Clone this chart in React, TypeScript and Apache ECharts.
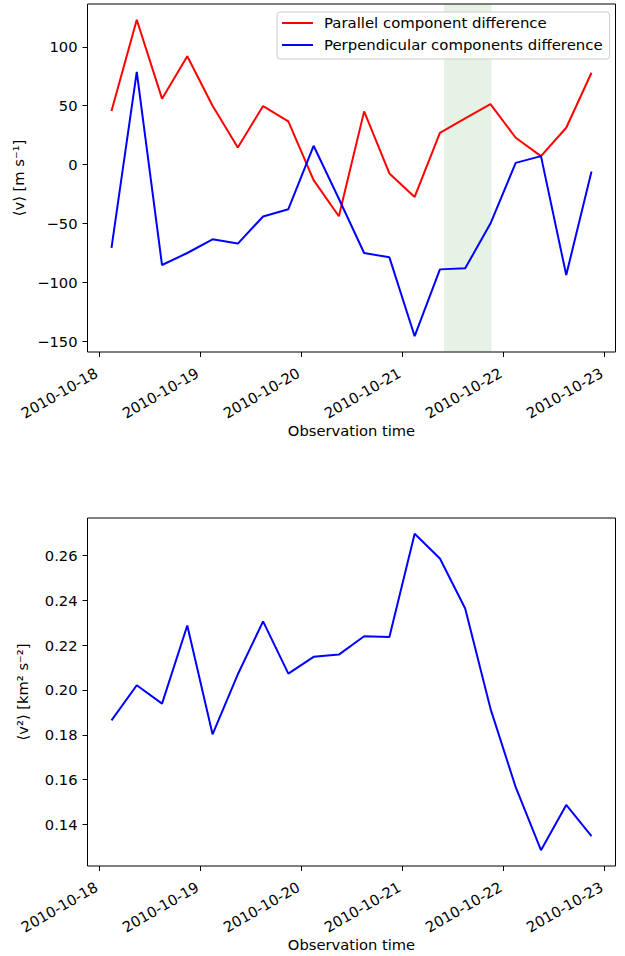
import React, { useEffect, useRef } from "react";
import * as echarts from "echarts";

const times = [
  "2010-10-18 03:00", "2010-10-18 09:00", "2010-10-18 15:00", "2010-10-18 21:00",
  "2010-10-19 03:00", "2010-10-19 09:00", "2010-10-19 15:00", "2010-10-19 21:00",
  "2010-10-20 03:00", "2010-10-20 09:00", "2010-10-20 15:00", "2010-10-20 21:00",
  "2010-10-21 03:00", "2010-10-21 09:00", "2010-10-21 15:00", "2010-10-21 21:00",
  "2010-10-22 03:00", "2010-10-22 09:00", "2010-10-22 15:00", "2010-10-22 21:00",
];
const parallelDiff = [45.5, 122.9, 56, 92, 50, 14.6, 49.7, 36.7, -13.2, -43.8, 45.2, -7.5, -27.4, 27, 39.3, 51.4, 22.8, 7.2, 31.3, 78];
const perpDiff = [-70.7, 78.7, -85.2, -75, -63.4, -67, -44, -37.8, 16, -29, -75, -78.7, -145.6, -88.9, -88, -50, 1.5, 7.2, -93.7, -5.8];
const v2 = [0.1864, 0.2021, 0.1939, 0.2288, 0.1802, 0.207, 0.2306, 0.2073, 0.2148, 0.2158, 0.224, 0.2236, 0.2697, 0.2587, 0.2364, 0.1917, 0.1566, 0.1285, 0.1487, 0.1348];
const dayTicks = ["2010-10-18", "2010-10-19", "2010-10-20", "2010-10-21", "2010-10-22", "2010-10-23"];
const shadeStart = "2010-10-21 10:00";
const shadeEnd = "2010-10-21 21:15";
const topYTicks = [-150, -100, -50, 0, 50, 100];
const bottomYTicks = [0.14, 0.16, 0.18, 0.2, 0.22, 0.24, 0.26];

const toMs = (s: string) => Date.parse(s.replace(" ", "T") + (s.length > 10 ? ":00Z" : "T00:00:00Z"));

const FONT = "DejaVu Sans";
const FS = 14.7;

export default function App() {
  const ref = useRef<HTMLDivElement>(null);
  useEffect(() => {
    if (!ref.current) return;
    const chart = echarts.init(ref.current, undefined, { renderer: "svg" });
    const xs = times.map(toMs);
    const xRange = xs[xs.length - 1] - xs[0];
    const xMin = xs[0] - 0.05 * xRange;
    const xMax = xs[xs.length - 1] + 0.05 * xRange;
    const tickMs = dayTicks.map(toMs);
    const pad = (arr: number[]) => {
      const lo = Math.min(...arr), hi = Math.max(...arr);
      const r = hi - lo;
      return [lo - 0.05 * r, hi + 0.05 * r];
    };
    const [tMin, tMax] = pad([...parallelDiff, ...perpDiff]);
    const [bMin, bMax] = pad(v2);
    const fmtDate = (v: number) => {
      const d = new Date(v);
      const mm = String(d.getUTCMonth() + 1).padStart(2, "0");
      const dd = String(d.getUTCDate()).padStart(2, "0");
      return `${d.getUTCFullYear()}-${mm}-${dd}`;
    };
    const xAxisBase = (gridIndex: number) => ({
      type: "value",
      gridIndex,
      min: xMin,
      max: xMax,
      splitLine: { show: false },
      axisLine: { show: false, onZero: false },
      axisTick: { show: true, inside: false, length: 5, customValues: tickMs, lineStyle: { color: "#000", width: 1 } },
      axisLabel: {
        customValues: tickMs,
        formatter: (v: number) => fmtDate(v),
        rotate: 30,
        margin: 18,
        padding: [0, 3, 0, 0],
        color: "#000",
        fontSize: FS,
        fontFamily: FONT,
      },
      name: "Observation time",
      nameLocation: "middle",
      nameGap: 70,
      nameTextStyle: { color: "#000", fontSize: FS, fontFamily: FONT },
    });
    const yAxisBase = (gridIndex: number, min: number, max: number, ticks: number[], fmt: (v: number) => string, name: string) => ({
      type: "value",
      gridIndex,
      min,
      max,
      splitLine: { show: false },
      axisLine: { show: false, onZero: false },
      axisTick: { show: true, inside: false, length: 5, customValues: ticks, lineStyle: { color: "#000", width: 1 } },
      axisLabel: {
        customValues: ticks,
        formatter: fmt,
        margin: 10,
        color: "#000",
        fontSize: FS,
        fontFamily: FONT,
      },
      name,
      nameLocation: "middle",
      nameGap: 58,
      nameRotate: 90,
      nameTextStyle: { color: "#000", fontSize: FS, fontFamily: FONT },
    });
    chart.setOption({
      animation: false,
      backgroundColor: "#fff",
      grid: [
        { left: 87.5, top: 4, width: 528, height: 348, show: true, borderColor: "#000", borderWidth: 1, backgroundColor: "transparent" },
        { left: 87.5, top: 518, width: 528, height: 348, show: true, borderColor: "#000", borderWidth: 1, backgroundColor: "transparent" },
      ],
      xAxis: [xAxisBase(0), xAxisBase(1)],
      yAxis: [
        yAxisBase(0, tMin, tMax, topYTicks, (v: number) => String(v).replace("-", "\u2212"), "\u27E8v\u27E9 [m s\u207B\u00B9]"),
        yAxisBase(1, bMin, bMax, bottomYTicks, (v: number) => v.toFixed(2), "\u27E8v\u00B2\u27E9 [km\u00B2 s\u207B\u00B2]"),
      ],
      legend: {
        left: 277,
        top: 12,
        orient: "vertical",
        icon: "rect",
        data: ["Parallel component difference", "Perpendicular components difference"],
        itemWidth: 31,
        itemHeight: 2,
        itemGap: 6,
        padding: [3, 7, 6, 5],
        borderColor: "#ccc",
        borderWidth: 1,
        borderRadius: 3,
        backgroundColor: "rgba(255,255,255,0.8)",
        textStyle: { color: "#000", fontSize: 14.9, lineHeight: 16, fontFamily: FONT, padding: [0, 0, 0, 6] },
      },
      series: [
        {
          name: "Parallel component difference",
          type: "line",
          xAxisIndex: 0,
          yAxisIndex: 0,
          data: xs.map((x, i) => [x, parallelDiff[i]]),
          symbol: "none",
          lineStyle: { color: "#ff0000", width: 2 },
          itemStyle: { color: "#ff0000" },
          z: 3,
          markArea: {
            silent: true,
            itemStyle: { color: "rgba(0,128,0,0.1)" },
            data: [[{ xAxis: toMs(shadeStart) }, { xAxis: toMs(shadeEnd) }]],
          },
        },
        {
          name: "Perpendicular components difference",
          type: "line",
          xAxisIndex: 0,
          yAxisIndex: 0,
          data: xs.map((x, i) => [x, perpDiff[i]]),
          symbol: "none",
          lineStyle: { color: "#0000ff", width: 2 },
          itemStyle: { color: "#0000ff" },
          z: 3,
        },
        {
          name: "v2",
          type: "line",
          xAxisIndex: 1,
          yAxisIndex: 1,
          data: xs.map((x, i) => [x, v2[i]]),
          symbol: "none",
          lineStyle: { color: "#0000ff", width: 2 },
          itemStyle: { color: "#0000ff" },
        },
      ],
    });
    return () => chart.dispose();
  }, []);
  return <div ref={ref} style={{ width: 625, height: 956, position: "absolute", left: 0, top: 0 }} />;
}
